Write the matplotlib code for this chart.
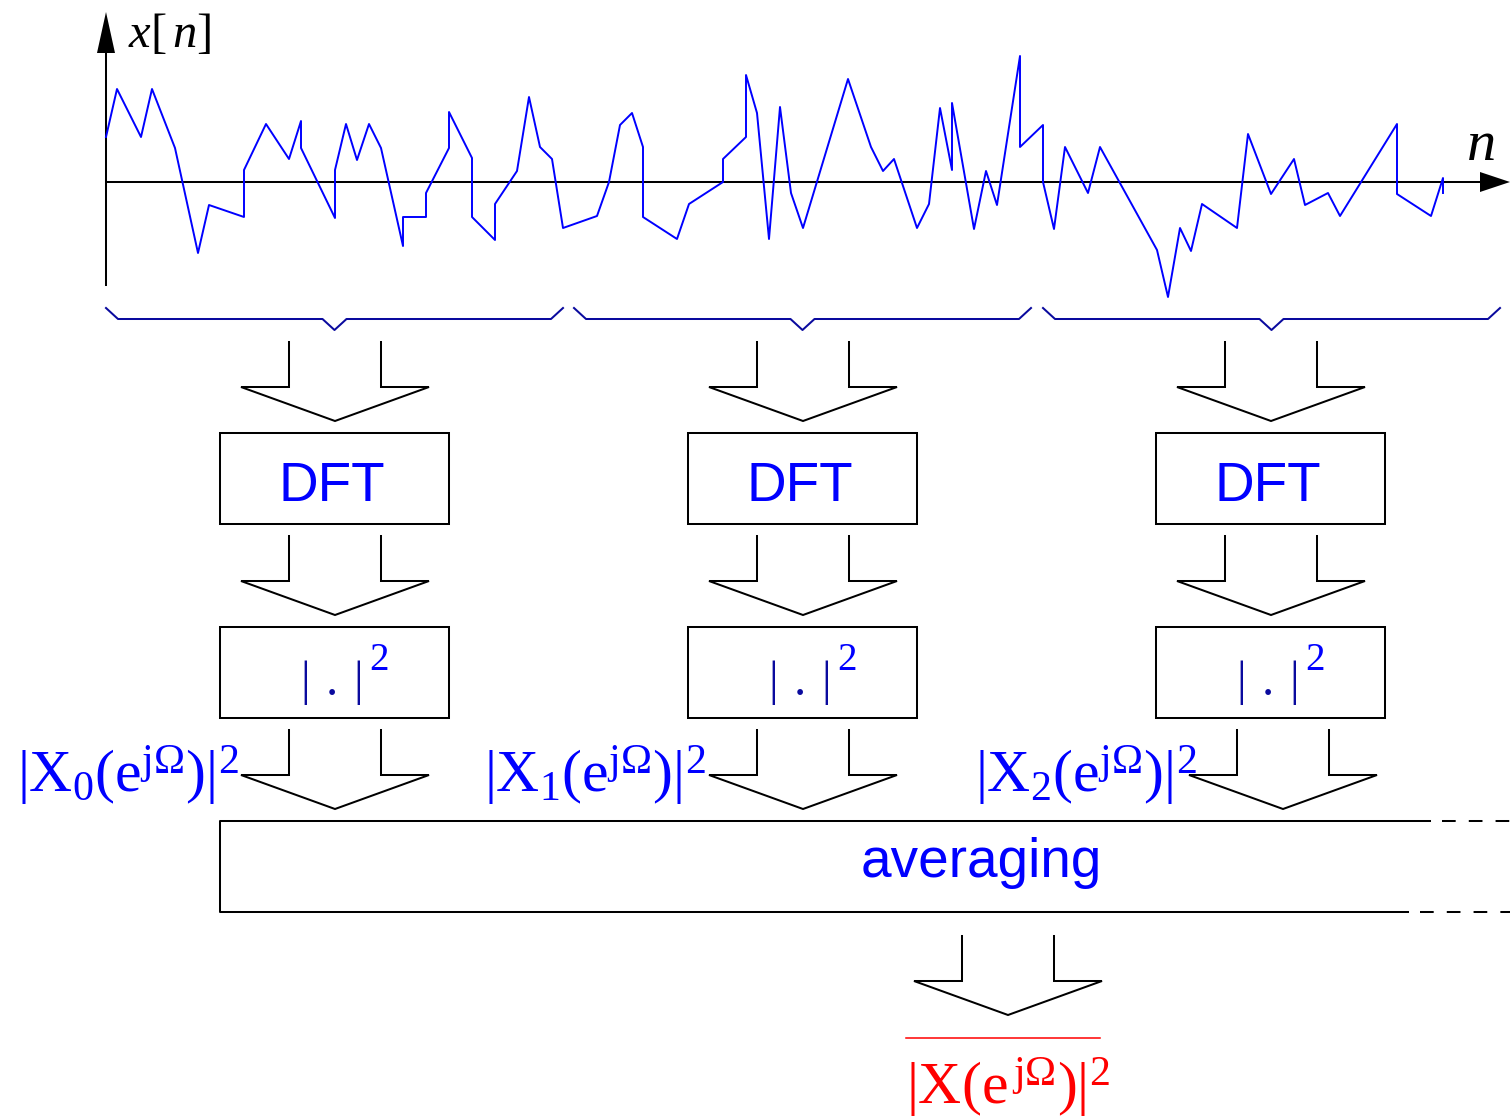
"""Welch-style periodogram averaging: block diagram with a noisy input signal."""

from __future__ import annotations

import matplotlib

matplotlib.use("Agg")
import matplotlib.pyplot as plt

# input signal x[n] (position along n-axis in px, amplitude in px above axis)
SIGNAL_T = [
    0, 11, 35, 46, 69, 92, 103, 138, 138, 160, 183, 195, 195, 229, 229, 240,
    251, 263, 275, 297, 297, 320, 320, 343, 343, 366, 366, 389, 389, 411, 423,
    434, 446, 457, 491, 503, 514, 526, 537, 537, 571, 583, 617, 617, 640, 640,
    651, 663, 674, 685, 697, 742, 765, 777, 788, 811, 823, 834, 846, 846, 868,
    880, 891, 914, 914, 937, 937, 948, 959, 982, 994, 1051, 1062, 1074, 1085,
    1096, 1131, 1142, 1165, 1188, 1199, 1222, 1234, 1291, 1291, 1325, 1337,
    1337,
]
SIGNAL_A = [
    45, 93, 45, 93, 34, -71, -23, -35, 12, 58, 23, 61, 34, -36, 12, 58, 22, 58,
    34, -64, -35, -35, -11, 34, 70, 24, -35, -58, -22, 11, 85, 35, 23, -46,
    -34, 0, 57, 69, 35, -35, -57, -22, 0, 23, 45, 107, 69, -57, 75, -11, -46,
    103, 35, 11, 23, -46, -22, 74, 12, 79, -47, 11, -23, 126, 35, 57, 0,
    -47, 35, -11, 35, -68, -115, -46, -69, -22, -46, 48, -12, 23, -23, -11,
    -34, 58, -12, -34, 4, -11,
]
AXIS_X0, AXIS_Y0 = 106, 182

BRACE_SPANS = [(106, 563), (574, 1031), (1043, 1500)]
COLUMN_CENTERS = [335, 803, 1271]
ROW3_ARROW_CENTERS = [335, 803, 1283]
STAGE_LABELS = ["DFT", "| . |"]
PSD_LABELS = [
    r"$|\mathrm{X}_{0}(\mathrm{e}^{\mathrm{j\Omega}})|^{2}$",
    r"$|\mathrm{X}_{1}(\mathrm{e}^{\mathrm{j\Omega}})|^{2}$",
    r"$|\mathrm{X}_{2}(\mathrm{e}^{\mathrm{j\Omega}})|^{2}$",
]
PSD_LABEL_X = [17, 484, 975]
AVG_LABEL = "averaging"
RESULT_LABEL = r"$|\mathrm{X}(\mathrm{e}^{\,\mathrm{j\Omega}})|^{2}$"

BLUE = "#0000ff"
NAVY = "#0a0a9e"
LW = 1.45


def hollow_arrow(ax, cx, top):
    xs = [cx - 46, cx - 46, cx - 94, cx, cx + 94, cx + 46, cx + 46]
    ys = [top, top + 45, top + 45, top + 79, top + 45, top + 45, top]
    ax.plot(xs, ys, color="black", lw=LW, solid_joinstyle="miter")


def box(ax, x0, y0, w, h):
    ax.add_patch(plt.Rectangle((x0, y0), w, h, fill=False, ec="black", lw=LW))


def brace(ax, x0, x1, y=319):
    mid = (x0 + x1) / 2
    xs = [x0, x0 + 12, mid - 12, mid, mid + 12, x1 - 12, x1]
    ys = [y - 11, y, y, y + 11, y, y, y - 11]
    ax.plot(xs, ys, color=NAVY, lw=LW)


def main() -> None:
    plt.rcParams["mathtext.fontset"] = "custom"
    plt.rcParams["mathtext.rm"] = "Liberation Serif"
    plt.rcParams["mathtext.it"] = "Liberation Serif:italic"

    fig = plt.figure(figsize=(15.10, 11.18), dpi=100)
    ax = fig.add_axes([0, 0, 1, 1])
    ax.set_xlim(0, 1510)
    ax.set_ylim(1118, 0)
    ax.axis("off")

    # axes of the signal plot
    ax.plot([AXIS_X0, AXIS_X0], [285, 50], color="black", lw=LW)
    ax.plot([AXIS_X0, 1482], [AXIS_Y0, AXIS_Y0], color="black", lw=LW)
    ax.fill([97, 115, 106], [53, 53, 12], color="black", lw=0)
    ax.fill([1480, 1480, 1510], [172, 192, 182], color="black", lw=0)
    ax.text(128, 47, r"$x[\,n]$", fontsize=35, va="baseline", ha="left")
    ax.text(1466, 160, r"$n$", fontsize=42, va="baseline", ha="left")

    ax.plot([AXIS_X0 + t for t in SIGNAL_T], [AXIS_Y0 - a for a in SIGNAL_A],
            color=BLUE, lw=1.4)

    for x0, x1 in BRACE_SPANS:
        brace(ax, x0, x1)

    for c in COLUMN_CENTERS:
        hollow_arrow(ax, c, 342)
        box(ax, c - 115, 433, 229, 91)
        ax.text(c - 3, 501, STAGE_LABELS[0], fontsize=39.5, color=BLUE,
                family="Liberation Sans", ha="center", va="baseline")
        hollow_arrow(ax, c, 536)
        box(ax, c - 115, 627, 229, 91)
        for dx, ch in [(-30, "|"), (-3, "."), (23, "|")]:
            ax.text(c + dx, 695, ch, fontsize=35, color=NAVY,
                    family="Liberation Serif", ha="center", va="baseline")
        ax.text(c + 34, 670, "2", fontsize=28, color=BLUE,
                family="Liberation Serif", ha="left", va="baseline")

    for c in ROW3_ARROW_CENTERS:
        hollow_arrow(ax, c, 730)
    for x, label in zip(PSD_LABEL_X, PSD_LABELS):
        ax.text(x, 792, label, fontsize=43, color=BLUE, ha="left", va="baseline")

    # averaging box, open to the right
    ax.plot([1430, 220, 220, 1408], [821, 821, 912, 912], color="black", lw=LW)
    ax.plot([1442, 1510], [821, 821], color="black", lw=LW, ls=(0, (6.8, 6.5)))
    ax.plot([1420, 1510], [912, 912], color="black", lw=LW, ls=(0, (6.8, 6.5)))
    ax.text(981, 877, AVG_LABEL, fontsize=39.5, color=BLUE,
            family="Liberation Sans", ha="center", va="baseline")

    hollow_arrow(ax, 1008, 936)
    ax.plot([906, 1100], [1038, 1038], color="red", lw=1.1)
    ax.text(906, 1104, RESULT_LABEL, fontsize=43, color="red", ha="left", va="baseline")

    fig.savefig("out.png", dpi=100)
    plt.close(fig)


if __name__ == "__main__":
    main()
